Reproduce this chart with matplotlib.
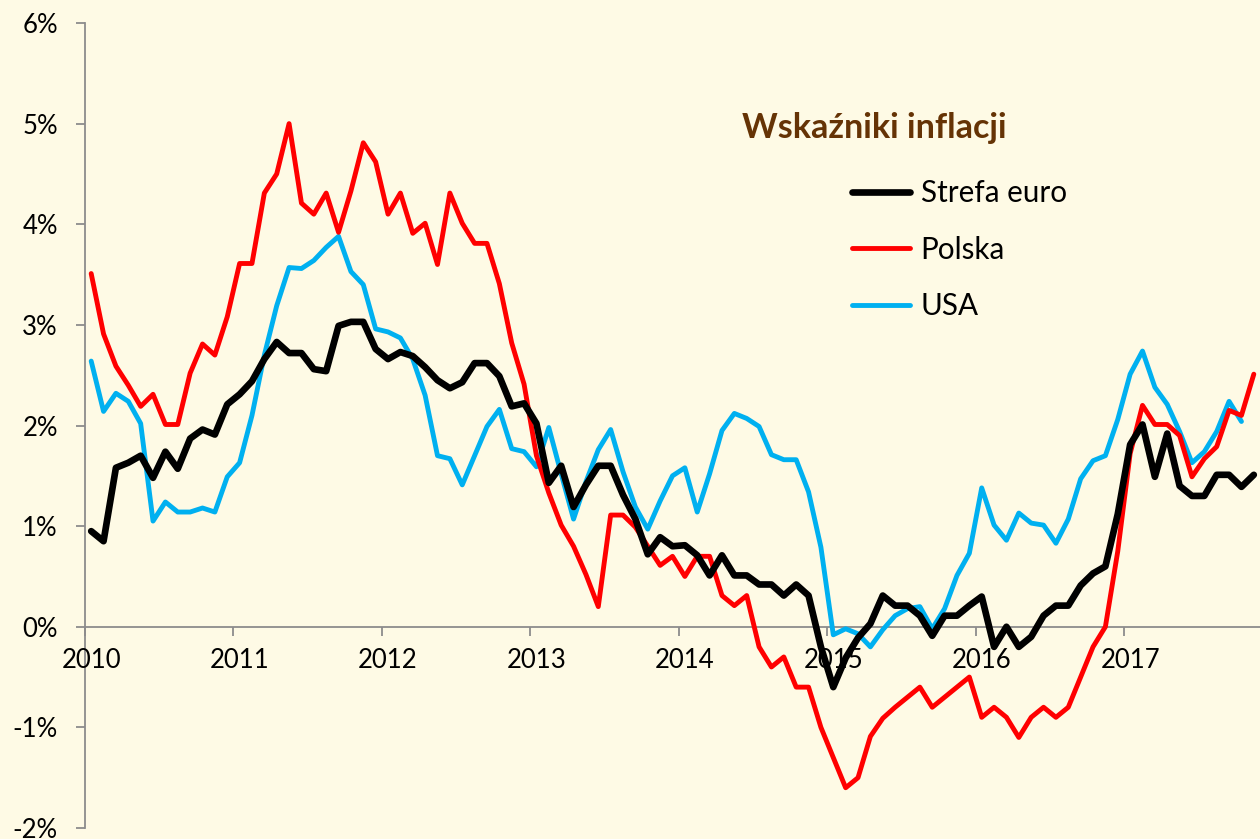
import matplotlib
matplotlib.use("Agg")
import matplotlib.pyplot as plt
import numpy as np

plt.rcParams['font.family'] = ['Lato', 'DejaVu Sans']

years = ["2010", "2011", "2012", "2013", "2014", "2015", "2016", "2017"]

strefa_euro = [
    0.95, 0.85, 1.58, 1.63, 1.70, 1.48, 1.74, 1.57, 1.87, 1.96, 1.91, 2.21,
    2.31, 2.44, 2.66, 2.83, 2.72, 2.72, 2.56, 2.54, 2.99, 3.03, 3.03, 2.76,
    2.66, 2.73, 2.69, 2.58, 2.45, 2.37, 2.43, 2.62, 2.62, 2.49, 2.19, 2.22,
    2.02, 1.43, 1.60, 1.19, 1.41, 1.60, 1.60, 1.31, 1.07, 0.72, 0.89, 0.80,
    0.81, 0.71, 0.51, 0.71, 0.51, 0.51, 0.42, 0.42, 0.31, 0.42, 0.31, -0.20,
    -0.60, -0.31, -0.11, 0.03, 0.31, 0.21, 0.21, 0.11, -0.09, 0.11, 0.11, 0.21,
    0.30, -0.20, 0.00, -0.20, -0.10, 0.11, 0.21, 0.21, 0.41, 0.53, 0.60, 1.12,
    1.81, 2.01, 1.49, 1.92, 1.40, 1.30, 1.30, 1.51, 1.51, 1.39, 1.51,
]

polska = [
    3.51, 2.91, 2.59, 2.40, 2.19, 2.31, 2.01, 2.01, 2.52, 2.81, 2.70, 3.08,
    3.61, 3.61, 4.31, 4.50, 5.00, 4.21, 4.10, 4.31, 3.92, 4.33, 4.81, 4.62,
    4.10, 4.31, 3.91, 4.01, 3.60, 4.31, 4.01, 3.81, 3.81, 3.41, 2.82, 2.41,
    1.70, 1.33, 1.01, 0.80, 0.52, 0.20, 1.11, 1.11, 0.99, 0.80, 0.61, 0.70,
    0.50, 0.70, 0.70, 0.31, 0.21, 0.31, -0.20, -0.40, -0.30, -0.60, -0.60, -1.00,
    -1.30, -1.60, -1.50, -1.09, -0.91, -0.80, -0.70, -0.60, -0.80, -0.70, -0.60, -0.50,
    -0.90, -0.80, -0.90, -1.10, -0.90, -0.80, -0.90, -0.80, -0.50, -0.20, 0.00, 0.75,
    1.72, 2.20, 2.01, 2.01, 1.90, 1.49, 1.67, 1.79, 2.15, 2.10, 2.51,
]

usa = [
    2.64, 2.14, 2.32, 2.24, 2.02, 1.05, 1.24, 1.14, 1.14, 1.18, 1.14, 1.49,
    1.63, 2.10, 2.70, 3.19, 3.57, 3.56, 3.64, 3.77, 3.88, 3.53, 3.40, 2.96,
    2.93, 2.87, 2.66, 2.30, 1.70, 1.67, 1.41, 1.70, 1.99, 2.16, 1.77, 1.74,
    1.59, 1.98, 1.52, 1.07, 1.44, 1.76, 1.96, 1.54, 1.19, 0.97, 1.25, 1.50,
    1.58, 1.14, 1.52, 1.95, 2.12, 2.07, 1.99, 1.71, 1.66, 1.66, 1.34, 0.79,
    -0.08, -0.02, -0.07, -0.20, -0.03, 0.11, 0.18, 0.20, -0.02, 0.18, 0.51, 0.73,
    1.38, 1.01, 0.86, 1.13, 1.03, 1.01, 0.83, 1.07, 1.47, 1.65, 1.70, 2.06,
    2.51, 2.74, 2.38, 2.21, 1.94, 1.63, 1.74, 1.94, 2.24, 2.04,
]

y_ticks = [-2, -1, 0, 1, 2, 3, 4, 5, 6]

BG = '#FEFAE5'
GRAY = '#8C8C8C'

W, H = 1260, 839
fig = plt.figure(figsize=(W / 100, H / 100), dpi=100, facecolor=BG)
ax = fig.add_axes([85 / W, 11 / H, (W - 85) / W, 805 / H])
ax.set_facecolor(BG)

x_e = np.arange(len(strefa_euro))
x_p = np.arange(len(polska))
x_u = np.arange(len(usa))

kw = dict(solid_joinstyle='round', solid_capstyle='round', zorder=3)
ax.plot(x_u, usa, color='#00B0F0', lw=3.5, label='USA', **kw)
ax.plot(x_p, polska, color='#FF0000', lw=3.5, label='Polska', **kw)
ax.plot(x_e, strefa_euro, color='#000000', lw=4.8, label='Strefa euro', **kw)

n = len(strefa_euro)
ax.set_xlim(-0.5, n - 0.5)
ax.set_ylim(-2, 6)

for s in ['top', 'right']:
    ax.spines[s].set_visible(False)
ax.spines['bottom'].set_position(('data', 0))
for s in ['left', 'bottom']:
    ax.spines[s].set_color(GRAY)
    ax.spines[s].set_linewidth(1.3)
    ax.spines[s].set_zorder(1.5)

ax.set_yticks(y_ticks)
ax.set_yticklabels([f"{v}%" for v in y_ticks])
ax.tick_params(axis='y', length=6.5, width=1.3, color=GRAY, pad=13,
               labelsize=18.5, labelcolor='black')

major_x = [12 * k - 0.5 for k in range(len(years))]
ax.set_xticks(major_x)
ax.set_xticklabels([])
ax.set_xticks([12 * k for k in range(len(years))], minor=True)
ax.set_xticklabels(years, minor=True)
ax.tick_params(axis='x', which='major', length=6.5, width=1.3, color=GRAY)
ax.tick_params(axis='x', which='minor', length=0, pad=15, labelsize=18.5,
               labelcolor='black')

fig.text(874 / W, 1 - 128 / H, 'Wskaźniki inflacji', ha='center', va='center',
         fontsize=24.5, fontweight='bold', color='#653305')

handles, labels = ax.get_legend_handles_labels()
order = [2, 1, 0]
leg = ax.legend([handles[i] for i in order], [labels[i] for i in order],
                loc='upper left', bbox_to_anchor=(852 / W, 1 - 179 / H),
                bbox_transform=fig.transFigure, frameon=False,
                fontsize=21.3, handlelength=1.95, handletextpad=0.37,
                labelspacing=0.97, borderpad=0, borderaxespad=0)

fig.savefig('out.png', dpi=100, facecolor=BG)
